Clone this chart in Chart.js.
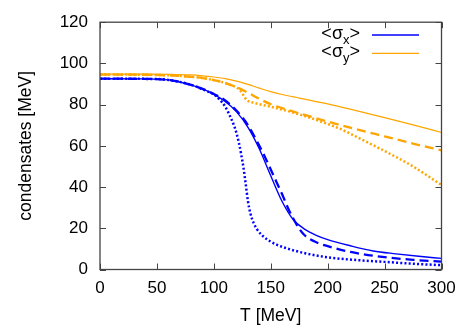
<!DOCTYPE html>
<html>
<head>
<meta charset="utf-8">
<script src="https://cdn.jsdelivr.net/npm/chart.js@4"></script>
<style>
  html, body { margin: 0; padding: 0; background: #fff; }
  canvas { display: block; }
</style>
</head>
<body>
<canvas id="chart" width="469" height="328"></canvas>
<script>
// tick labels
const xTicks = [0, 50, 100, 150, 200, 250, 300];
const yTicks = [0, 20, 40, 60, 80, 100, 120];

// <sigma_x>, blue
const blueSolidT = [0, 40, 60, 70, 80, 90, 100, 110, 120, 130, 140, 150, 160, 170, 180, 190, 200, 220, 240, 260, 280, 300];
const blueSolidY = [92.6, 92.5, 92.0, 91.0, 89.6, 87.6, 85.0, 81.5, 76.5, 69.0, 58.5, 45.5, 33.0, 24.0, 19.5, 16.6, 14.5, 11.5, 9.0, 7.6, 6.4, 5.4];

const blueDashedT = [0, 40, 60, 80, 100, 110, 120, 130, 140, 145, 150, 155, 160, 165, 170, 175, 180, 190, 200, 220, 250, 275, 300];
const blueDashedY = [92.6, 92.5, 92.0, 89.6, 85.2, 82.0, 77.0, 70.0, 60.0, 54.5, 48.5, 42.5, 36.5, 30.0, 24.5, 19.8, 16.5, 13.2, 11.3, 8.5, 6.0, 4.7, 3.8];

const blueDottedT = [0, 40, 60, 80, 95, 100, 105, 110, 115, 118, 120, 122, 124, 126, 128, 130, 132, 135, 138, 142, 150, 160, 170, 180, 200, 225, 250, 275, 300];
const blueDottedY = [92.6, 92.5, 92.0, 89.6, 86.3, 85.0, 82.5, 79.0, 73.5, 69.5, 66.0, 61.5, 56.0, 49.5, 41.5, 33.0, 27.5, 22.5, 19.5, 16.8, 13.5, 11.0, 9.3, 7.9, 5.9, 4.6, 3.7, 2.8, 2.1];

// <sigma_y>, orange
const orangeSolidT = [0, 40, 60, 80, 90, 100, 110, 120, 130, 140, 150, 160, 175, 200, 225, 250, 275, 300];
const orangeSolidY = [94.8, 94.8, 94.7, 94.4, 94.0, 93.4, 92.6, 91.4, 89.8, 88.0, 86.3, 84.9, 83.2, 80.4, 77.1, 73.7, 70.2, 66.5];

const orangeDashedT = [0, 40, 60, 80, 90, 100, 110, 120, 130, 140, 150, 160, 175, 200, 225, 250, 275, 300];
const orangeDashedY = [94.6, 94.5, 94.2, 93.5, 92.9, 91.9, 90.5, 88.5, 85.8, 82.8, 80.2, 78.3, 75.8, 71.8, 68.1, 64.6, 61.1, 57.8];

const orangeDottedT = [0, 40, 60, 80, 90, 100, 110, 115, 120, 123, 126, 129, 133, 140, 150, 175, 200, 210, 225, 240, 250, 275, 300];
const orangeDottedY = [94.6, 94.5, 94.2, 93.5, 92.9, 91.9, 90.5, 89.5, 88.3, 87.0, 84.5, 82.2, 81.2, 80.2, 79.0, 75.3, 70.6, 68.5, 64.5, 60.3, 57.5, 50.0, 41.0];

const BLUE = "#0000ff";
const ORANGE = "#ffa500";
const FONT = "'Liberation Sans', Arial, Helvetica, sans-serif";

const toPoints = (ts, ys) => ts.map((t, i) => ({ x: t, y: ys[i] }));

const makeSet = (label, ts, ys, color, width, dash) => ({
  label: label,
  data: toPoints(ts, ys),
  borderColor: color,
  borderWidth: width,
  borderDash: dash,
  borderCapStyle: "butt",
  pointRadius: 0,
  fill: false,
  cubicInterpolationMode: "monotone",
});

// frame, inward ticks on all sides and the key (with subscripts)
const framePlugin = {
  id: "frame",
  afterDatasetsDraw(chart) {
    const { ctx, chartArea: a, scales } = chart;
    const x = scales.x, y = scales.y;
    ctx.save();
    ctx.strokeStyle = "#444";
    ctx.lineWidth = 1;
    ctx.beginPath();
    xTicks.forEach((v) => {
      const px = Math.round(x.getPixelForValue(v)) + 0.5;
      ctx.moveTo(px, a.bottom); ctx.lineTo(px, a.bottom - 6);
      ctx.moveTo(px, a.top); ctx.lineTo(px, a.top + 6);
    });
    yTicks.forEach((v) => {
      const py = Math.round(y.getPixelForValue(v)) + 0.5;
      ctx.moveTo(a.left, py); ctx.lineTo(a.left + 6, py);
      ctx.moveTo(a.right, py); ctx.lineTo(a.right - 6, py);
    });
    ctx.stroke();
    ctx.lineWidth = 1.3;
    ctx.strokeRect(a.left, a.top, a.right - a.left, a.bottom - a.top);

    // key
    const keySets = chart.data.datasets.filter((d) => d.label);
    keySets.forEach((d, i) => {
      const rowY = 35 + i * 18.3;
      const [base, sub] = d.label.split("_");
      const big = "18px " + FONT, small = "13px " + FONT;
      ctx.font = big;
      const wBase = ctx.measureText("<" + base).width;
      const wEnd = ctx.measureText(">").width;
      ctx.font = small;
      const wSub = ctx.measureText(sub).width;
      let tx = 360 - (wBase + wSub + wEnd);
      ctx.fillStyle = "#000";
      ctx.textBaseline = "alphabetic";
      ctx.textAlign = "left";
      ctx.font = big;
      ctx.fillText("<" + base, tx, rowY + 4);
      tx += wBase;
      ctx.font = small;
      ctx.fillText(sub, tx, rowY + 9);
      tx += wSub;
      ctx.font = big;
      ctx.fillText(">", tx, rowY + 4);

      ctx.strokeStyle = d.borderColor;
      ctx.lineWidth = d.borderWidth;
      ctx.setLineDash([]);
      ctx.beginPath();
      ctx.moveTo(372, rowY);
      ctx.lineTo(419, rowY);
      ctx.stroke();
    });
    ctx.restore();
  },
};

new Chart(document.getElementById("chart"), {
  type: "line",
  data: {
    datasets: [
      makeSet("", orangeDottedT, orangeDottedY, ORANGE, 2.5, [2, 2.2]),
      makeSet("", orangeDashedT, orangeDashedY, ORANGE, 2.3, [9, 5]),
      makeSet("", blueDottedT, blueDottedY, BLUE, 2.5, [2, 2.2]),
      makeSet("", blueDashedT, blueDashedY, BLUE, 2.3, [9, 5]),
      makeSet("σ_x", blueSolidT, blueSolidY, BLUE, 1.4, []),
      makeSet("σ_y", orangeSolidT, orangeSolidY, ORANGE, 1.2, []),
    ],
  },
  options: {
    responsive: false,
    animation: false,
    events: [],
    layout: { padding: { left: 0, right: 27.5, top: 22, bottom: 0 } },
    plugins: {
      legend: { display: false },
      tooltip: { enabled: false },
    },
    scales: {
      x: {
        type: "linear",
        min: 0,
        max: 300,
        afterBuildTicks: (s) => { s.ticks = xTicks.map((v) => ({ value: v })); },
        afterFit: (s) => { s.height = 58.5; },
        grid: { display: false, drawTicks: false },
        border: { display: false },
        ticks: { color: "#000", font: { family: FONT, size: 17 }, padding: 9, maxRotation: 0 },
        title: {
          display: true,
          text: "T [MeV]",
          color: "#000",
          font: { family: FONT, size: 17.5 },
          padding: { top: 0, bottom: 1 },
        },
      },
      y: {
        type: "linear",
        min: 0,
        max: 120,
        afterBuildTicks: (s) => { s.ticks = yTicks.map((v) => ({ value: v })); },
        afterFit: (s) => { s.width = 100; },
        grid: { display: false, drawTicks: false },
        border: { display: false },
        ticks: { color: "#000", font: { family: FONT, size: 17 }, padding: 12 },
        title: {
          display: true,
          text: "condensates [MeV]",
          color: "#000",
          font: { family: FONT, size: 17.5 },
          padding: { top: 16, bottom: 0 },
        },
      },
    },
  },
  plugins: [framePlugin],
});
</script>
</body>
</html>
